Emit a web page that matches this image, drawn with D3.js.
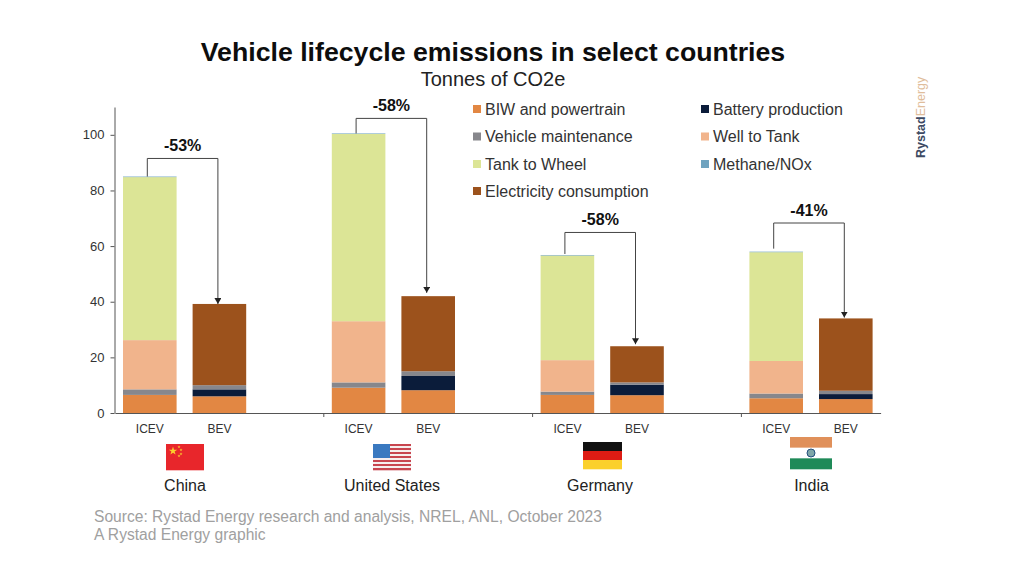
<!DOCTYPE html>
<html>
<head>
<meta charset="utf-8">
<script src="https://cdnjs.cloudflare.com/ajax/libs/d3/7.8.5/d3.min.js"></script>
<style>
  html, body { margin: 0; padding: 0; background: #fff; }
  text { font-family: "Liberation Sans", Arial, sans-serif; }
</style>
</head>
<body>
<div id="chart"></div>
<script>
const countries = ["China", "United States", "Germany", "India"];
const powertrains = ["ICEV", "BEV"];
const seriesNames = ["BIW and powertrain", "Battery production", "Vehicle maintenance", "Well to Tank",
                     "Tank to Wheel", "Methane/NOx", "Electricity consumption"];
const seriesColors = ["#e28743", "#0b1c3a", "#87878c", "#f1b48c", "#dce596", "#6fa3bf", "#9c521c"];

// one value per bar: China ICEV, China BEV, US ICEV, US BEV, Germany ICEV, Germany BEV, India ICEV, India BEV
const biw         = [6.5, 6.0, 9.1, 8.2, 6.5, 6.4, 5.3, 5.0];
const battery     = [0, 2.5, 0, 5.1, 0, 3.8, 0, 1.8];
const maintenance = [2.0, 1.5, 1.9, 1.7, 1.2, 0.8, 1.7, 1.2];
const wellToTank  = [17.7, 0, 22.0, 0, 11.3, 0, 11.7, 0];
const tankToWheel = [58.6, 0, 67.3, 0, 37.6, 0, 39.1, 0];
const methane     = [0.2, 0, 0.2, 0, 0.2, 0, 0.2, 0];
const electricity = [0, 29.2, 0, 27.0, 0, 13.0, 0, 26.0];

const changeLabels = ["-53%", "-58%", "-58%", "-41%"];
const bracketTops = [91.5, 105.9, 64.9, 68.3];
const yTicks = [0, 20, 40, 60, 80, 100];

const width = 1024, height = 576;
const svg = d3.select("#chart").append("svg")
    .attr("width", width)
    .attr("height", height)
    .style("display", "block");

// 11 slots: two bars per country and an empty slot between countries
let slots = [];
countries.forEach((c, i) => {
    powertrains.forEach(p => slots.push(c + " " + p));
    if (i < countries.length - 1) slots.push("gap" + i);
});
const barKeys = slots.filter(s => !s.startsWith("gap"));

const x = d3.scaleBand().domain(slots).range([115, 880.6]);
const y = d3.scaleLinear().domain([0, 110]).range([413, 107]);
const barWidth = x.bandwidth() * 0.77;
const center = k => x(k) + x.bandwidth() / 2;

const columns = [biw, battery, maintenance, wellToTank, tankToWheel, methane, electricity];
const rows = barKeys.map((k, i) => {
    let row = { key: k };
    seriesNames.forEach((s, j) => { row[s] = columns[j][i]; });
    return row;
});
const stacked = d3.stack().keys(seriesNames)(rows);

svg.append("g").selectAll("g")
    .data(stacked)
    .enter().append("g")
        .attr("fill", (d, i) => seriesColors[i])
    .selectAll("rect")
    .data(d => d.filter(v => v[1] > v[0]))
    .enter().append("rect")
        .attr("x", d => center(d.data.key) - barWidth / 2)
        .attr("y", d => y(d[1]))
        .attr("width", barWidth)
        .attr("height", d => y(d[0]) - y(d[1]));

// axes
const yAxis = svg.append("g")
    .attr("transform", "translate(114.5,0)")
    .call(d3.axisLeft(y).tickValues(yTicks).tickSize(4).tickPadding(6).tickSizeOuter(0));
yAxis.selectAll("text").style("font-size", "13px").attr("fill", "#333");
yAxis.selectAll("line,path").attr("stroke", "#555");

const xAxis = svg.append("g")
    .attr("transform", "translate(0,413)")
    .call(d3.axisBottom(x).tickValues(barKeys).tickSize(0).tickPadding(11)
        .tickFormat(k => k.split(" ").pop()).tickSizeOuter(0));
xAxis.selectAll("text").style("font-size", "12px").attr("fill", "#333");
xAxis.select("path").attr("stroke", "#555");

// separators between countries
svg.append("g").selectAll("line")
    .data(countries.slice(1))
    .enter().append("line")
        .attr("x1", c => x(c + " ICEV"))
        .attr("x2", c => x(c + " ICEV"))
        .attr("y1", 413)
        .attr("y2", 417)
        .attr("stroke", "#555");

// change brackets
svg.append("defs").append("marker")
    .attr("id", "arrow")
    .attr("markerUnits", "userSpaceOnUse")
    .attr("viewBox", "0 0 6 7")
    .attr("refX", 6).attr("refY", 3.5)
    .attr("markerWidth", 6).attr("markerHeight", 7)
    .attr("orient", "auto")
    .append("path").attr("d", "M0,0L6,3.5L0,7Z").attr("fill", "#222");

const totals = rows.map(r => d3.sum(seriesNames, s => r[s]));
const startGaps = [0, 0, 1, 3];
const arrowGaps = [0, 3.3, 2, 0.8];
countries.forEach((c, i) => {
    const x1 = center(c + " ICEV") - 2.5;
    const x2 = center(c + " BEV") - 1.5;
    const top = y(bracketTops[i]);
    svg.append("path")
        .attr("d", `M${x1},${y(totals[i * 2]) - startGaps[i]}V${top}H${x2}V${y(totals[i * 2 + 1]) - arrowGaps[i]}`)
        .attr("fill", "none")
        .attr("stroke", "#444")
        .attr("stroke-width", 1)
        .attr("marker-end", "url(#arrow)");
    svg.append("text")
        .attr("x", (x1 + x2) / 2)
        .attr("y", top - 7)
        .attr("text-anchor", "middle")
        .attr("font-weight", "bold")
        .attr("font-size", 16)
        .attr("fill", "#111")
        .text(changeLabels[i]);
});

// legend
const legendCols = [473, 701], legendRows = [109, 136.5, 164, 191];
const legendSlots = [[0, 0], [1, 0], [0, 1], [1, 1], [0, 2], [1, 2], [0, 3]];
const legend = svg.append("g").selectAll("g")
    .data(seriesNames)
    .enter().append("g")
        .attr("transform", (d, i) => `translate(${legendCols[legendSlots[i][0]]},${legendRows[legendSlots[i][1]]})`);
legend.append("rect")
    .attr("y", -4).attr("width", 8).attr("height", 8)
    .attr("fill", (d, i) => seriesColors[i]);
legend.append("text")
    .attr("x", 12).attr("y", 5.5)
    .attr("font-size", 16)
    .attr("fill", "#333")
    .text(d => d);

// flags and country names
const flagX = [166, 373, 583, 790];
const flagW = [38, 38, 39, 42];
const countryX = [185, 392, 600, 811.5];

function stripes(g, cols, w, h) {
    cols.forEach((col, i) => {
        g.append("rect").attr("y", i * h / cols.length).attr("width", w)
            .attr("height", h / cols.length + 0.3).attr("fill", col);
    });
}

const cn = svg.append("g").attr("transform", `translate(${flagX[0]},444)`);
stripes(cn, ["#e8262b"], flagW[0], 26);
cn.append("path").attr("transform", "translate(7,7)")
    .attr("d", d3.symbol(d3.symbolStar, 22)).attr("fill", "#fbd02c");
[[13, 3], [15, 6], [15, 10], [13, 12]].forEach(p => {
    cn.append("path").attr("transform", `translate(${p[0]},${p[1]})`)
        .attr("d", d3.symbol(d3.symbolStar, 3)).attr("fill", "#fbd02c");
});

const us = svg.append("g").attr("transform", `translate(${flagX[1]},444)`);
stripes(us, d3.range(13).map(i => i % 2 ? "#f6eeee" : "#c8454f"), flagW[1], 26);
us.append("rect").attr("width", 17).attr("height", 14).attr("fill", "#3a79c0");

const de = svg.append("g").attr("transform", `translate(${flagX[2]},442)`);
stripes(de, ["#111111", "#dd1c14", "#fbd02c"], flagW[2], 27);

const ind = svg.append("g").attr("transform", `translate(${flagX[3]},437)`);
stripes(ind, ["#e0905a", "#ffffff", "#1f8a58"], flagW[3], 32);
ind.append("circle").attr("cx", 21).attr("cy", 16).attr("r", 4)
    .attr("fill", "#7fa6a8").attr("stroke", "#234f7d").attr("stroke-width", 1);

svg.append("g").selectAll("text")
    .data(countries)
    .enter().append("text")
        .attr("x", (d, i) => countryX[i])
        .attr("y", 491)
        .attr("text-anchor", "middle")
        .attr("font-size", 16)
        .attr("fill", "#222")
        .text(d => d);

// titles
svg.append("text")
    .attr("x", 493).attr("y", 61)
    .attr("text-anchor", "middle")
    .attr("font-weight", "bold")
    .attr("font-size", 26.7)
    .attr("fill", "#0d0d0d")
    .text("Vehicle lifecycle emissions in select countries");
svg.append("text")
    .attr("x", 493).attr("y", 86)
    .attr("text-anchor", "middle")
    .attr("font-size", 20)
    .attr("fill", "#222")
    .text("Tonnes of CO2e");

// source
svg.append("text")
    .attr("x", 94).attr("y", 522)
    .attr("font-size", 15.6)
    .attr("fill", "#a0a0a0")
    .text("Source: Rystad Energy research and analysis, NREL, ANL, October 2023");
svg.append("text")
    .attr("x", 94).attr("y", 540)
    .attr("font-size", 15.6)
    .attr("fill", "#a0a0a0")
    .text("A Rystad Energy graphic");

// brand mark
const brand = svg.append("text")
    .attr("transform", "translate(925,158) rotate(-90)")
    .attr("font-size", 12.5);
brand.append("tspan").attr("font-weight", "bold").attr("fill", "#3d4a63").text("Rystad");
brand.append("tspan").attr("fill", "#dfbd9b").text("Energy");
</script>
</body>
</html>
